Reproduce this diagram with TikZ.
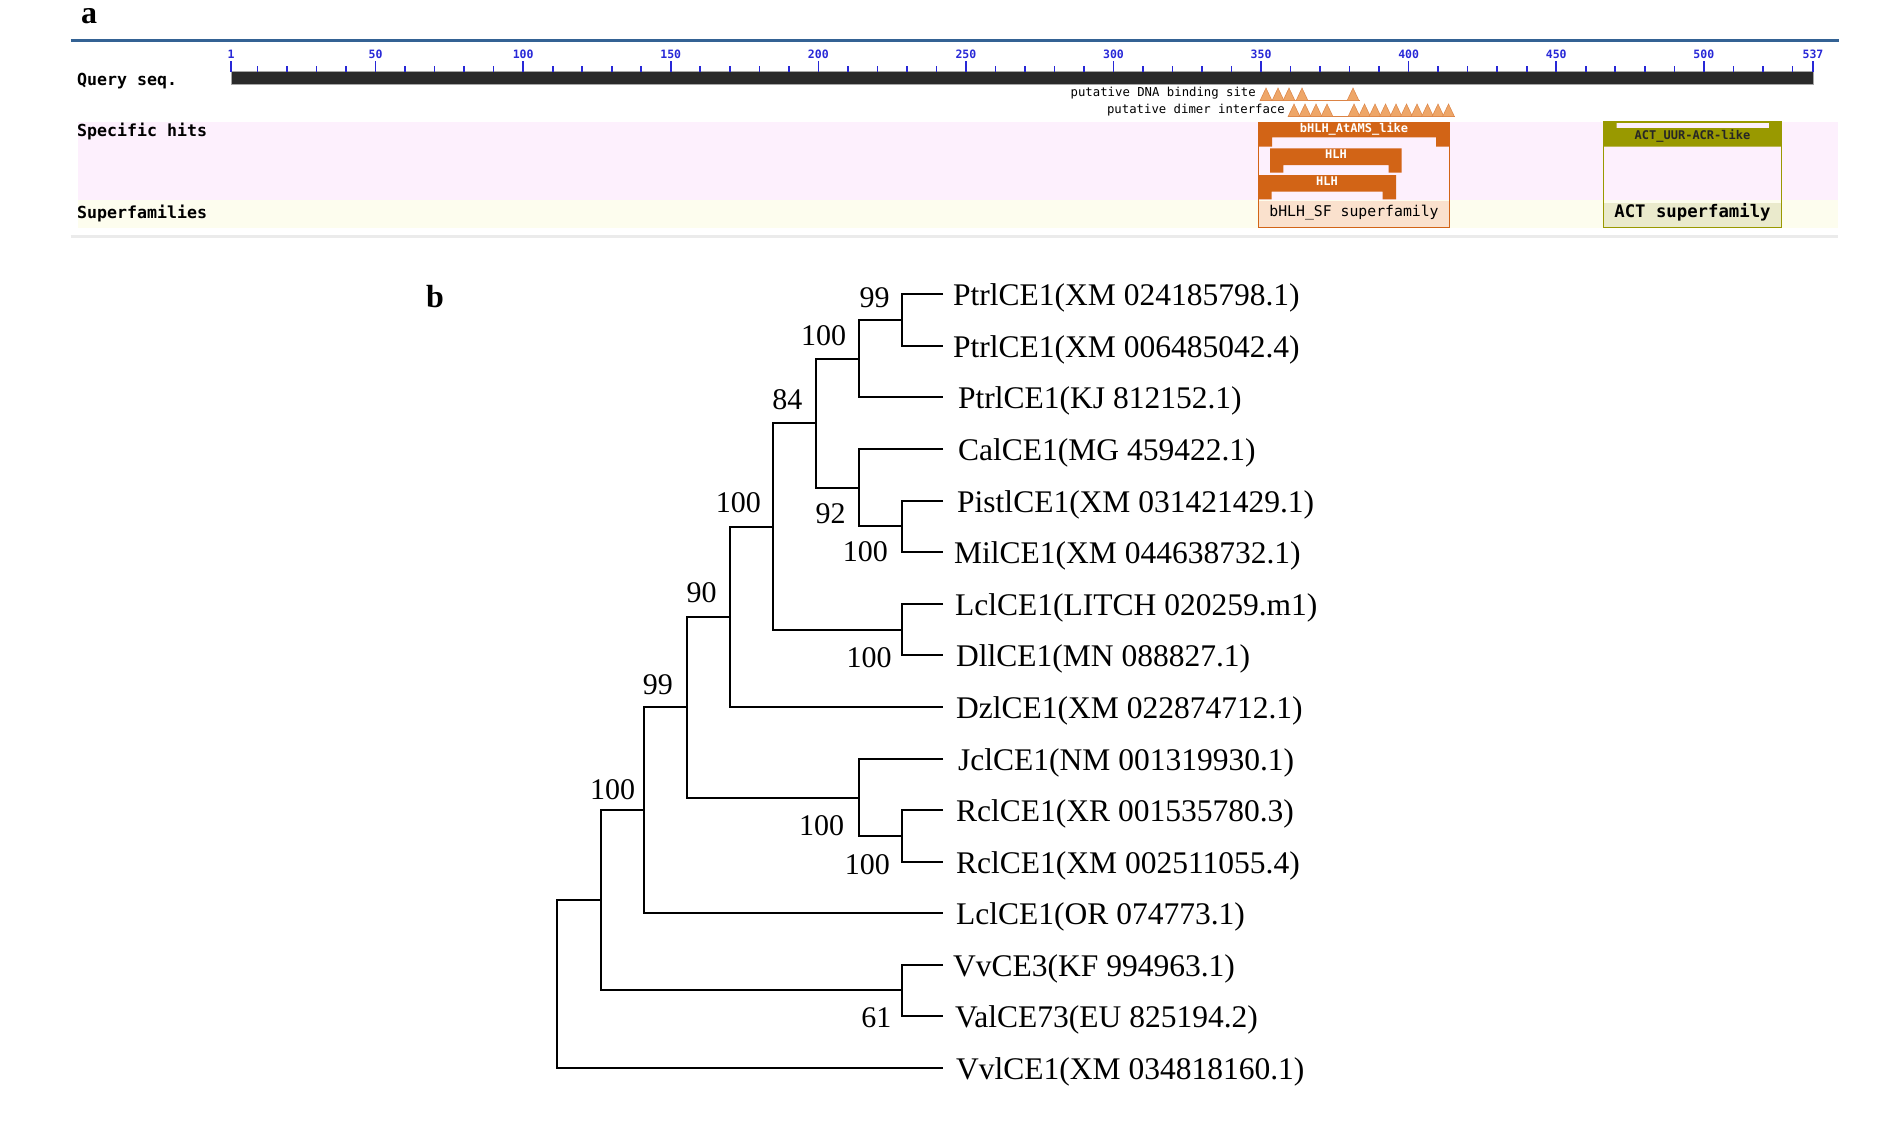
\documentclass[tikz,border=0pt]{standalone}
\usepackage{fontspec}
\setmainfont{Liberation Serif}
\setmonofont{DejaVu Sans Mono}
\usepackage{tikz}
\usetikzlibrary{positioning}

\definecolor{cddblue}{RGB}{52,98,148}
\definecolor{rulerblue}{RGB}{40,40,215}
\definecolor{seqgray}{RGB}{42,42,42}
\definecolor{hitpink}{RGB}{253,240,253}
\definecolor{sfcream}{RGB}{253,253,238}
\definecolor{hitorange}{RGB}{210,100,22}
\definecolor{siteorange}{RGB}{238,166,104}
\definecolor{sfpeach}{RGB}{250,225,205}
\definecolor{actolive}{RGB}{153,153,0}
\definecolor{actfill}{RGB}{234,234,204}

\begin{document}
\begin{tikzpicture}[x=1pt,y=-1pt,
    branch/.style={line width=2pt, black},
    leaf/.style={font=\fontsize{31.5}{36}\selectfont, inner sep=0pt, text height=23pt, text depth=0pt},
    boot/.style={font=\fontsize{30}{30}\selectfont, inner sep=0pt},
    panel/.style={font=\bfseries\fontsize{32}{32}\selectfont, inner sep=0pt, anchor=base west},
    rowlabel/.style={font=\ttfamily\bfseries\fontsize{16.6}{17}\selectfont, inner sep=0pt, anchor=base west},
    rulernum/.style={font=\ttfamily\bfseries\fontsize{11.5}{12}\selectfont, text=rulerblue, inner sep=0pt},
    rulertick/.style={rulerblue, line width=1.6pt},
    sitetext/.style={font=\ttfamily\fontsize{12.3}{13}\selectfont, inner sep=0pt, anchor=mid east},
    sitetri/.style={fill=siteorange, draw=hitorange!80, line width=0.5pt},
    hittext/.style={font=\ttfamily\bfseries\fontsize{12}{12}\selectfont, inner sep=0pt, anchor=mid},
    sftext/.style={font=\ttfamily\fontsize{14.8}{15}\selectfont, inner sep=0pt, anchor=mid}]

\useasboundingbox (0,0) rectangle (1890,1122);

% ---------- panel a ----------
\node[panel] (pa) at (81,23) {a};
\draw[cddblue, line width=3pt] (70.7,40) -- (1839,40);

% row bands
\fill[hitpink] (77.7,122.3) rectangle (1838,200);
\fill[sfcream] (77.7,200) rectangle (1838,228.3);
\draw[black!8, line width=3pt] (70.7,236) -- (1838,236);

\node[rowlabel] (qlab) at (77,85) {Query seq.};
\node[rowlabel] (hlab) at (77,136.5) {Specific hits};
\node[rowlabel] (slab) at (77,218.5) {Superfamilies};

% query bar and ruler
\fill[seqgray, draw=black!35, line width=0.8pt] (231,71.7) rectangle (1813,84);
\foreach \r in {10,20,...,530} {
    \pgfmathsetmacro\xr{231+(\r-1)*2.9515}
    \draw[rulertick] (\xr,71.7) -- (\xr,66);
}
\foreach \r in {1,50,100,150,200,250,300,350,400,450,500,537} {
    \pgfmathsetmacro\xr{231+(\r-1)*2.9515}
    \draw[rulertick] (\xr,71.7) -- (\xr,60.7);
    \node[rulernum] (rn\r) at (\xr,54.5) {\r};
}

% feature sites
\node[sitetext] (dnasite) at (1256,94) {putative DNA binding site};
\draw[hitorange!80, line width=0.8pt] (1260,100.7) -- (1360,100.7);
\foreach \c in {1266,1278,1289,1302,1353}
    \filldraw[sitetri] ({\c-6},100.7) -- (\c,88) -- ({\c+6},100.7) -- cycle;
\node[sitetext] (dimer) at (1285,111) {putative dimer interface};
\draw[hitorange!80, line width=0.8pt] (1288,116.7) -- (1455,116.7);
\foreach \c in {1294,1305,1316,1327,1354,1364.5,1375,1385.5,1396,1406.5,1417,1427.5,1438,1448.5}
    \filldraw[sitetri] ({\c-6},116.7) -- (\c,104) -- ({\c+6},116.7) -- cycle;

% bHLH hits
\fill[hitorange] (1258.3,122.3) -- (1449.3,122.3) -- (1449.3,146.7) -- (1436,146.7)
    -- (1436,137.3) -- (1272,137.3) -- (1272,146.7) -- (1258.3,146.7) -- cycle;
\fill[hitorange] (1270,148.3) -- (1401.7,148.3) -- (1401.7,172.7) -- (1388.5,172.7)
    -- (1388.5,165) -- (1283.3,165) -- (1283.3,172.7) -- (1270,172.7) -- cycle;
\fill[hitorange] (1258.3,175) -- (1396,175) -- (1396,199.3) -- (1382.7,199.3)
    -- (1382.7,191.7) -- (1271.7,191.7) -- (1271.7,199.3) -- (1258.3,199.3) -- cycle;
\fill[sfpeach] (1258.3,200.7) rectangle (1449.3,227.7);
\draw[hitorange, line width=1.5pt] (1258.3,122.3) rectangle (1449.3,227.7);
\node[hittext, text=white] (hams) at (1354,130) {bHLH\_AtAMS\_like};
\node[hittext, text=white] (hhlha) at (1336,156.5) {HLH};
\node[hittext, text=white] (hhlhb) at (1327,183) {HLH};
\node[sftext] (sfbhlh) at (1354,214) {bHLH\_SF superfamily};

% ACT hit
\fill[actolive] (1603.3,146.7) -- (1603.3,122) -- (1616.7,122) -- (1616.7,128)
    -- (1769,128) -- (1769,122) -- (1781.7,122) -- (1781.7,146.7) -- cycle;
\fill[actfill] (1603.3,203.3) rectangle (1781.7,227.7);
\draw[actolive, line width=1.5pt] (1603.3,122) rectangle (1781.7,227.7);
\node[hittext, text=black!85] (hact) at (1692.5,137) {ACT\_UUR-ACR-like};
\node[sftext, font=\ttfamily\bfseries\fontsize{17.3}{18}\selectfont] (sfact) at (1692.5,215.7) {ACT superfamily};

% ---------- panel b ----------
\node[panel] (pb) at (426,307.3) {b};

% leaf tips and labels
\foreach \txt/\gap [count=\i] in {
    {PtrlCE1(XM 024185798.1)}/10, {PtrlCE1(XM 006485042.4)}/10,
    {PtrlCE1(KJ 812152.1)}/15, {CalCE1(MG 459422.1)}/15,
    {PistlCE1(XM 031421429.1)}/14, {MilCE1(XM 044638732.1)}/11,
    {LclCE1(LITCH 020259.m1)}/12, {DllCE1(MN 088827.1)}/13,
    {DzlCE1(XM 022874712.1)}/13, {JclCE1(NM 001319930.1)}/15,
    {RclCE1(XR 001535780.3)}/13, {RclCE1(XM 002511055.4)}/13,
    {LclCE1(OR 074773.1)}/13, {VvCE3(KF 994963.1)}/10,
    {ValCE73(EU 825194.2)}/12, {VvlCE1(XM 034818160.1)}/13} {
    \coordinate (t\i) at (943,{294.3+(\i-1)*51.58});
    \node[leaf, right=\gap pt of t\i] (l\i) {\txt};
}

% internal nodes
\coordinate (nA) at (902,320.2);
\coordinate (nB) at (859,359);
\coordinate (nD) at (902,526.3);
\coordinate (nC) at (859,487.8);
\coordinate (nE) at (815.7,423.4);
\coordinate (nG) at (902,629.9);
\coordinate (nF) at (772.7,526.6);
\coordinate (nH) at (730,616.8);
\coordinate (nK) at (902,836);
\coordinate (nJ) at (859,797.7);
\coordinate (nI) at (686.7,707.2);
\coordinate (nL) at (644,810);
\coordinate (nN) at (902,990.4);
\coordinate (nM) at (600.7,900.2);
\coordinate (nR) at (557.3,984);

% branches
\draw[branch] (t1) -| (nA) |- (t2);
\draw[branch] (nA) -| (nB) |- (t3);
\draw[branch] (t5) -| (nD) |- (t6);
\draw[branch] (t4) -| (nC) |- (nD);
\draw[branch] (nB) -| (nE) |- (nC);
\draw[branch] (t7) -| (nG) |- (t8);
\draw[branch] (nE) -| (nF) |- (nG);
\draw[branch] (nF) -| (nH) |- (t9);
\draw[branch] (t11) -| (nK) |- (t12);
\draw[branch] (t10) -| (nJ) |- (nK);
\draw[branch] (nH) -| (nI) |- (nJ);
\draw[branch] (nI) -| (nL) |- (t13);
\draw[branch] (t14) -| (nN) |- (t15);
\draw[branch] (nL) -| (nM) |- (nN);
\draw[branch] (nM) -| (nR) |- (t16);

% bootstrap values
\node[boot] (bA) at (874.5,297.5) {99};
\node[boot] (bB) at (823.7,336) {100};
\node[boot] (bE) at (787.3,399.5) {84};
\node[boot] (bC) at (830.7,513.8) {92};
\node[boot] (bD) at (865.3,551.5) {100};
\node[boot] (bF) at (738.3,502.2) {100};
\node[boot] (bH) at (701.7,592.2) {90};
\node[boot] (bG) at (869,657.5) {100};
\node[boot] (bI) at (657.8,685) {99};
\node[boot] (bL) at (612.5,789.2) {100};
\node[boot] (bJ) at (821.7,825.8) {100};
\node[boot] (bK) at (867.3,864.8) {100};
\node[boot] (bN) at (876.3,1017.2) {61};

\end{tikzpicture}
\end{document}
